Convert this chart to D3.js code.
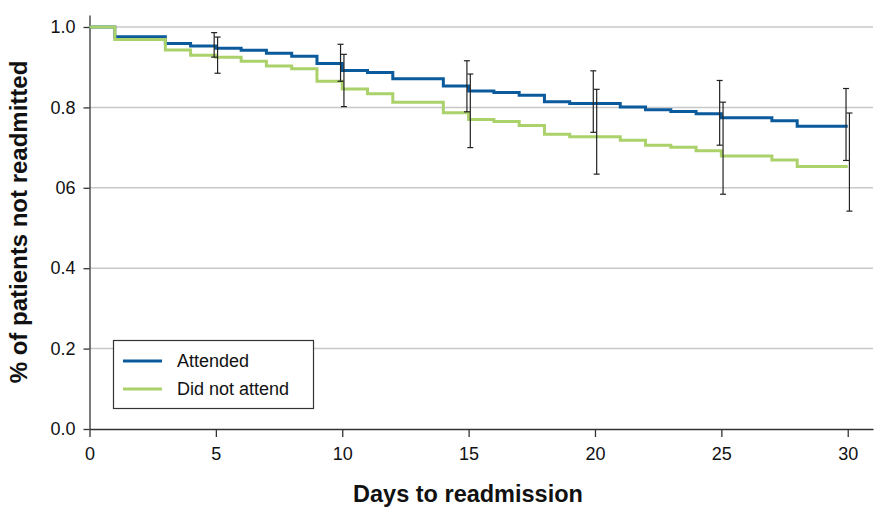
<!DOCTYPE html>
<html lang="en">
  <head>
    <meta charset="UTF-8" />
    <title>Days to readmission</title>
    <script src="https://d3js.org/d3.v7.min.js"></script>
    <style>
      body {
        margin: 0;
        background: #fff;
        font-family: "Liberation Sans", Arial, sans-serif;
      }
      .tick text {
        font-size: 18px;
        fill: #111;
      }
      .axis-title {
        font-weight: bold;
        fill: #111;
      }
      .legend text {
        font-size: 18px;
        fill: #111;
      }
    </style>
  </head>
  <body>
    <div id="chart"></div>
    <script>
      // step data (Kaplan-Meier style)
      const attendedDays = [0, 1, 3, 4, 5, 6, 7, 8, 9, 10, 11, 12, 14, 15, 16, 17, 18, 19, 21, 22, 23, 24, 25, 27, 28, 30];
      const attendedVals = [1.0, 0.976, 0.959, 0.953, 0.947, 0.942, 0.935, 0.927, 0.909, 0.892, 0.887, 0.871, 0.853, 0.841, 0.837, 0.83, 0.814, 0.81, 0.801, 0.794, 0.79, 0.784, 0.774, 0.767, 0.753, 0.753];
      const didNotDays = [0, 1, 3, 4, 5, 6, 7, 8, 9, 10, 11, 12, 14, 15, 16, 17, 18, 19, 21, 22, 23, 24, 25, 27, 28, 30];
      const didNotVals = [1.0, 0.969, 0.943, 0.93, 0.925, 0.915, 0.903, 0.896, 0.865, 0.846, 0.834, 0.813, 0.787, 0.77, 0.765, 0.755, 0.733, 0.727, 0.718, 0.706, 0.701, 0.692, 0.679, 0.669, 0.653, 0.653];

      // confidence intervals
      const ciDays = [5, 10, 15, 20, 25, 30];
      const attendedLow = [0.925, 0.865, 0.789, 0.738, 0.706, 0.668];
      const attendedHigh = [0.986, 0.957, 0.916, 0.891, 0.867, 0.847];
      const didNotLow = [0.885, 0.802, 0.7, 0.634, 0.584, 0.542];
      const didNotHigh = [0.975, 0.932, 0.883, 0.845, 0.813, 0.786];

      const xTicks = [0, 5, 10, 15, 20, 25, 30];
      const yTicks = [0, 0.2, 0.4, 0.6, 0.8, 1.0];
      const yTickLabels = ["0.0", "0.2", "0.4", "06", "0.8", "1.0"];
      const seriesNames = ["Attended", "Did not attend"];

      const width = 874;
      const height = 509;
      const blue = "#0b5a9c";
      const green = "#abd16b";

      const svg = d3
        .select("#chart")
        .append("svg")
        .attr("width", width)
        .attr("height", height);

      const x = d3.scaleLinear().domain([0, 31]).range([89.5, 873]);
      const y = d3.scaleLinear().domain([0, 1.03]).range([429, 14.94]);

      // grid
      svg
        .append("g")
        .selectAll("line")
        .data(yTicks.filter((d) => d > 0))
        .join("line")
        .attr("x1", x(0))
        .attr("x2", x(31))
        .attr("y1", (d) => y(d))
        .attr("y2", (d) => y(d))
        .attr("stroke", "#c8c8c8")
        .attr("stroke-width", 1.5);

      // axes
      const xAxis = svg
        .append("g")
        .attr("transform", `translate(0,${y(0)})`)
        .call(d3.axisBottom(x).tickValues(xTicks).tickSize(8).tickSizeOuter(0).tickPadding(10));
      const yAxis = svg
        .append("g")
        .attr("transform", `translate(${x(0)},0)`)
        .call(
          d3
            .axisLeft(y)
            .tickValues(yTicks)
            .tickFormat((d, i) => yTickLabels[i])
            .tickSize(6)
            .tickSizeOuter(0)
            .tickPadding(8)
        );
      [xAxis, yAxis].forEach((g) => {
        g.selectAll("path, line").attr("stroke", "#333").attr("stroke-width", 1.3);
        g.selectAll("text").attr("font-family", "'Liberation Sans', Arial, sans-serif");
      });

      // step lines
      const line = d3
        .line()
        .x((d) => x(d[0]))
        .y((d) => y(d[1]))
        .curve(d3.curveStepAfter);

      svg
        .append("path")
        .datum(attendedDays.map((d, i) => [d, attendedVals[i]]))
        .attr("d", line)
        .attr("fill", "none")
        .attr("stroke", blue)
        .attr("stroke-width", 3);

      svg
        .append("path")
        .datum(didNotDays.map((d, i) => [d, didNotVals[i]]))
        .attr("d", line)
        .attr("fill", "none")
        .attr("stroke", green)
        .attr("stroke-width", 3);

      // error bars
      function errorBars(lows, highs, dx) {
        const g = svg.append("g").attr("stroke", "#222").attr("stroke-width", 1.2);
        ciDays.forEach((d, i) => {
          const cx = x(d) + dx;
          g.append("line").attr("x1", cx).attr("x2", cx).attr("y1", y(highs[i])).attr("y2", y(lows[i]));
          [highs[i], lows[i]].forEach((v) => {
            g.append("line")
              .attr("x1", cx - 3)
              .attr("x2", cx + 3)
              .attr("y1", y(v))
              .attr("y2", y(v));
          });
        });
      }
      errorBars(attendedLow, attendedHigh, -1.7);
      errorBars(didNotLow, didNotHigh, 1.7);

      // titles
      svg
        .append("text")
        .attr("class", "axis-title")
        .attr("x", 468)
        .attr("y", 502)
        .attr("text-anchor", "middle")
        .style("font-size", "23.5px")
        .text("Days to readmission");

      svg
        .append("text")
        .attr("class", "axis-title")
        .attr("transform", "translate(27,222) rotate(-90)")
        .attr("text-anchor", "middle")
        .style("font-size", "24px")
        .text("% of patients not readmitted");

      // legend
      const legend = svg.append("g").attr("class", "legend");
      legend
        .append("rect")
        .attr("x", 113.5)
        .attr("y", 340.5)
        .attr("width", 200)
        .attr("height", 68)
        .attr("fill", "#fff")
        .attr("stroke", "#333")
        .attr("stroke-width", 1.2);
      [blue, green].forEach((c, i) => {
        const ly = 361 + i * 28;
        legend
          .append("line")
          .attr("x1", 123)
          .attr("x2", 162)
          .attr("y1", ly)
          .attr("y2", ly)
          .attr("stroke", c)
          .attr("stroke-width", 3);
        legend
          .append("text")
          .attr("x", 177)
          .attr("y", ly + 6)
          .text(seriesNames[i]);
      });
    </script>
  </body>
</html>
